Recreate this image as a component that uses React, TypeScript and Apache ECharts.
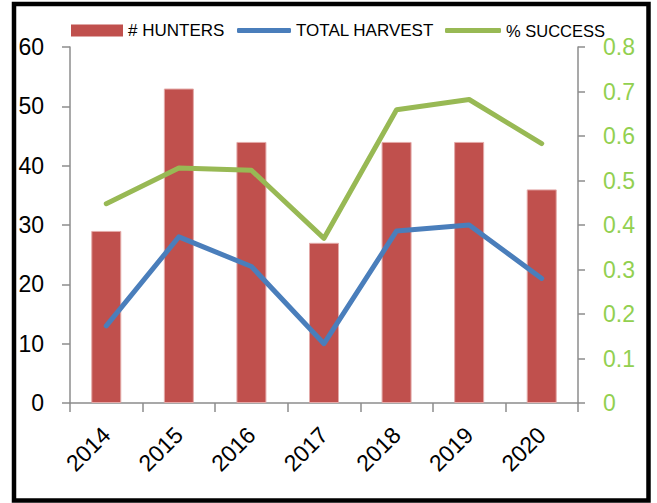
import React, { useEffect, useRef } from "react";
import * as echarts from "echarts";

const years = ["2014", "2015", "2016", "2017", "2018", "2019", "2020"];
const hunters = [29, 53, 44, 27, 44, 44, 36];
const harvest = [13, 28, 23, 10, 29, 30, 21];
const success = [0.448, 0.528, 0.523, 0.37, 0.659, 0.682, 0.583];
const seriesNames = ["# HUNTERS", "TOTAL HARVEST", "% SUCCESS"];

const RED = "#C0504D";
const BLUE = "#4A7EBB";
const GREEN = "#98B954";
const AXIS = "#8C8C8C";
const FONT = "'Liberation Sans', Arial, sans-serif";

export default function App() {
  const ref = useRef<HTMLDivElement>(null);
  useEffect(() => {
    if (!ref.current) return;
    const chart = echarts.init(ref.current, undefined, { renderer: "svg" });
    const legendBase = {
      top: 22,
      padding: 0,
      itemHeight: 12,
      itemWidth: 52,
      itemGap: 0,
      textStyle: { fontFamily: FONT, fontSize: 17, color: "#000" },
      selectedMode: false,
    };
    chart.setOption({
      animation: false,
      backgroundColor: "#fff",
      graphic: [
        {
          type: "rect",
          shape: { x: 14, y: 4, width: 634.5, height: 496.5 },
          style: { fill: "none", stroke: "#000", lineWidth: 4.5 },
          z: 100,
        },
      ],
      legend: [
        {
          ...legendBase,
          left: 71,
          data: [{ name: seriesNames[0], icon: "rect", itemStyle: { color: RED, borderWidth: 0 } }],
        },
        {
          ...legendBase,
          left: 237,
          itemWidth: 54,
          itemHeight: 5,
          data: [{ name: seriesNames[1], icon: "roundRect", itemStyle: { color: BLUE } }],
        },
        {
          ...legendBase,
          left: 445,
          itemWidth: 56,
          itemHeight: 5,
          textStyle: { ...legendBase.textStyle, fontSize: 16.5 },
          data: [{ name: seriesNames[2], icon: "roundRect", itemStyle: { color: GREEN } }],
        },
      ],
      grid: { left: 70, right: 79, top: 47, bottom: 100 },
      xAxis: {
        type: "category",
        data: years,
        axisLine: { lineStyle: { color: AXIS, width: 1.5 } },
        axisTick: { show: true, length: 9, lineStyle: { color: AXIS, width: 1.5 } },
        axisLabel: {
          rotate: 45,
          margin: 28,
          fontFamily: FONT,
          fontSize: 23,
          color: "#000",
          interval: 0,
        },
      },
      yAxis: [
        {
          type: "value",
          min: 0,
          max: 60,
          interval: 10,
          splitLine: { show: false },
          axisLine: { show: true, lineStyle: { color: AXIS, width: 1.5 } },
          axisTick: { show: true, length: 8, lineStyle: { color: AXIS, width: 1.5 } },
          axisLabel: { margin: 26, fontFamily: FONT, fontSize: 23, color: "#000" },
        },
        {
          type: "value",
          min: 0,
          max: 0.8,
          interval: 0.1,
          position: "right",
          splitLine: { show: false },
          axisLine: { show: true, lineStyle: { color: AXIS, width: 1.5 } },
          axisTick: { show: true, length: 7, lineStyle: { color: AXIS, width: 1.5 } },
          axisLabel: {
            margin: 25,
            fontFamily: FONT,
            fontSize: 23,
            color: "#92D050",
            formatter: (v: number) => (v === 0 ? "0" : v.toFixed(1)),
          },
        },
      ],
      series: [
        {
          name: seriesNames[0],
          type: "bar",
          data: hunters,
          barWidth: 30,
          itemStyle: { color: RED, borderColor: "#E3A9A8", borderWidth: 1 },
          z: 1,
        },
        {
          name: seriesNames[1],
          type: "line",
          data: harvest,
          symbol: "none",
          itemStyle: { color: BLUE },
          lineStyle: { color: BLUE, width: 5, cap: "round", join: "round" },
          z: 3,
        },
        {
          name: seriesNames[2],
          type: "line",
          yAxisIndex: 1,
          data: success,
          symbol: "none",
          itemStyle: { color: GREEN },
          lineStyle: { color: GREEN, width: 5, cap: "round", join: "round" },
          z: 3,
        },
      ],
    });
    return () => chart.dispose();
  }, []);
  return (
    <div
      ref={ref}
      style={{ position: "absolute", left: 0, top: 0, width: 657, height: 503, background: "#fff" }}
    />
  );
}
